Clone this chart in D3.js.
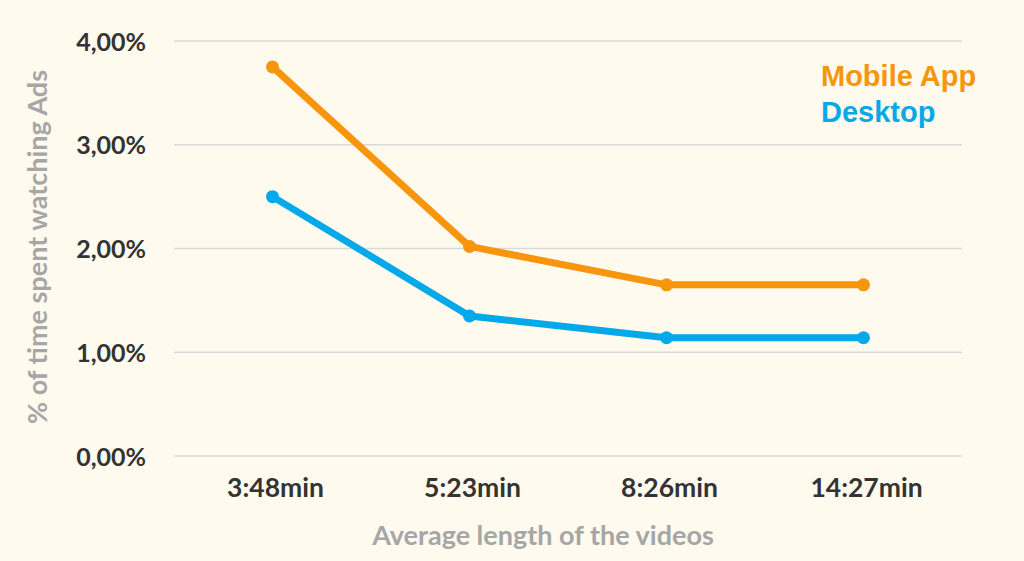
<!DOCTYPE html>
<html><head><meta charset="utf-8">
<script src="https://cdn.jsdelivr.net/npm/d3@7"></script>
<style>
html,body{margin:0;padding:0;background:#FEFAEE;}
svg{display:block;}
</style></head>
<body><svg id="c" width="1024" height="561"></svg>
<script>
const categories = ["3:48min", "5:23min", "8:26min", "14:27min"];
const mobileApp = [3.75, 2.02, 1.65, 1.65];
const desktop = [2.50, 1.35, 1.14, 1.14];
const yTicks = [0, 1, 2, 3, 4];
const seriesNames = ["Mobile App", "Desktop"];
const seriesColors = ["#F7960C", "#05A8E8"];

const svg = d3.select("#c");
svg.append("rect").attr("width",1024).attr("height",561).attr("fill","#FEFAEE");

const x = d3.scaleBand().domain(categories).range([174, 962]);
const y = d3.scaleLinear().domain([0, 4]).range([456, 41]);
const labelFont = "Lato, 'Open Sans', sans-serif";

// grid
svg.append("g").selectAll("line").data(yTicks).join("line")
  .attr("x1",174).attr("x2",962)
  .attr("y1",d=>y(d)).attr("y2",d=>y(d))
  .attr("stroke","#D9D9D9").attr("stroke-width",1.3);

// y axis
const yAxis = d3.axisLeft(y).tickValues(yTicks).tickSize(0).tickPadding(0)
  .tickFormat(d => d3.format(".2f")(d).replace(".", ",") + "%");
const gy = svg.append("g").attr("transform","translate(146,0)").call(yAxis);
gy.select(".domain").remove();
gy.selectAll("text").attr("font-family",labelFont).attr("font-weight","bold")
  .attr("font-size",25).attr("fill","#333333").attr("dy","0.36em");

// x axis
const xAxis = d3.axisBottom(x).tickSize(0).tickPadding(0);
const gx = svg.append("g").attr("transform","translate(3,497)").call(xAxis);
gx.select(".domain").remove();
gx.selectAll("text").attr("font-family",labelFont).attr("font-weight","bold")
  .attr("font-size",26.5).attr("fill","#333333").attr("dy","0").attr("y",0);

// axis titles
svg.append("text").attr("x",543).attr("y",545).attr("text-anchor","middle")
  .attr("font-family",labelFont).attr("font-weight","bold").attr("font-size",27)
  .attr("fill","#A6A6A6").text("Average length of the videos");
svg.append("text").attr("transform","translate(47,247) rotate(-90)").attr("text-anchor","middle")
  .attr("font-family",labelFont).attr("font-weight","bold").attr("font-size",27)
  .attr("fill","#A6A6A6").text("% of time spent watching Ads");

// lines
const series = [mobileApp, desktop];
const line = d3.line().x((d,i)=>x(categories[i]) + x.bandwidth()/2).y(d=>y(d));
series.forEach((s, k) => {
  svg.append("path").datum(s).attr("d", line).attr("fill","none")
    .attr("stroke", seriesColors[k]).attr("stroke-width",7).attr("stroke-linejoin","round");
  svg.append("g").selectAll("circle").data(s).join("circle")
    .attr("cx",(d,i)=>x(categories[i]) + x.bandwidth()/2).attr("cy",d=>y(d))
    .attr("r",6.5).attr("fill",seriesColors[k]);
});

// legend
seriesNames.forEach((n,k) => {
  svg.append("text").attr("x",821).attr("y",86 + k*36)
    .attr("font-family","'Liberation Sans', Arial, sans-serif").attr("font-weight","bold")
    .attr("font-size",29).attr("fill",seriesColors[k]).text(n);
});
</script></body></html>
